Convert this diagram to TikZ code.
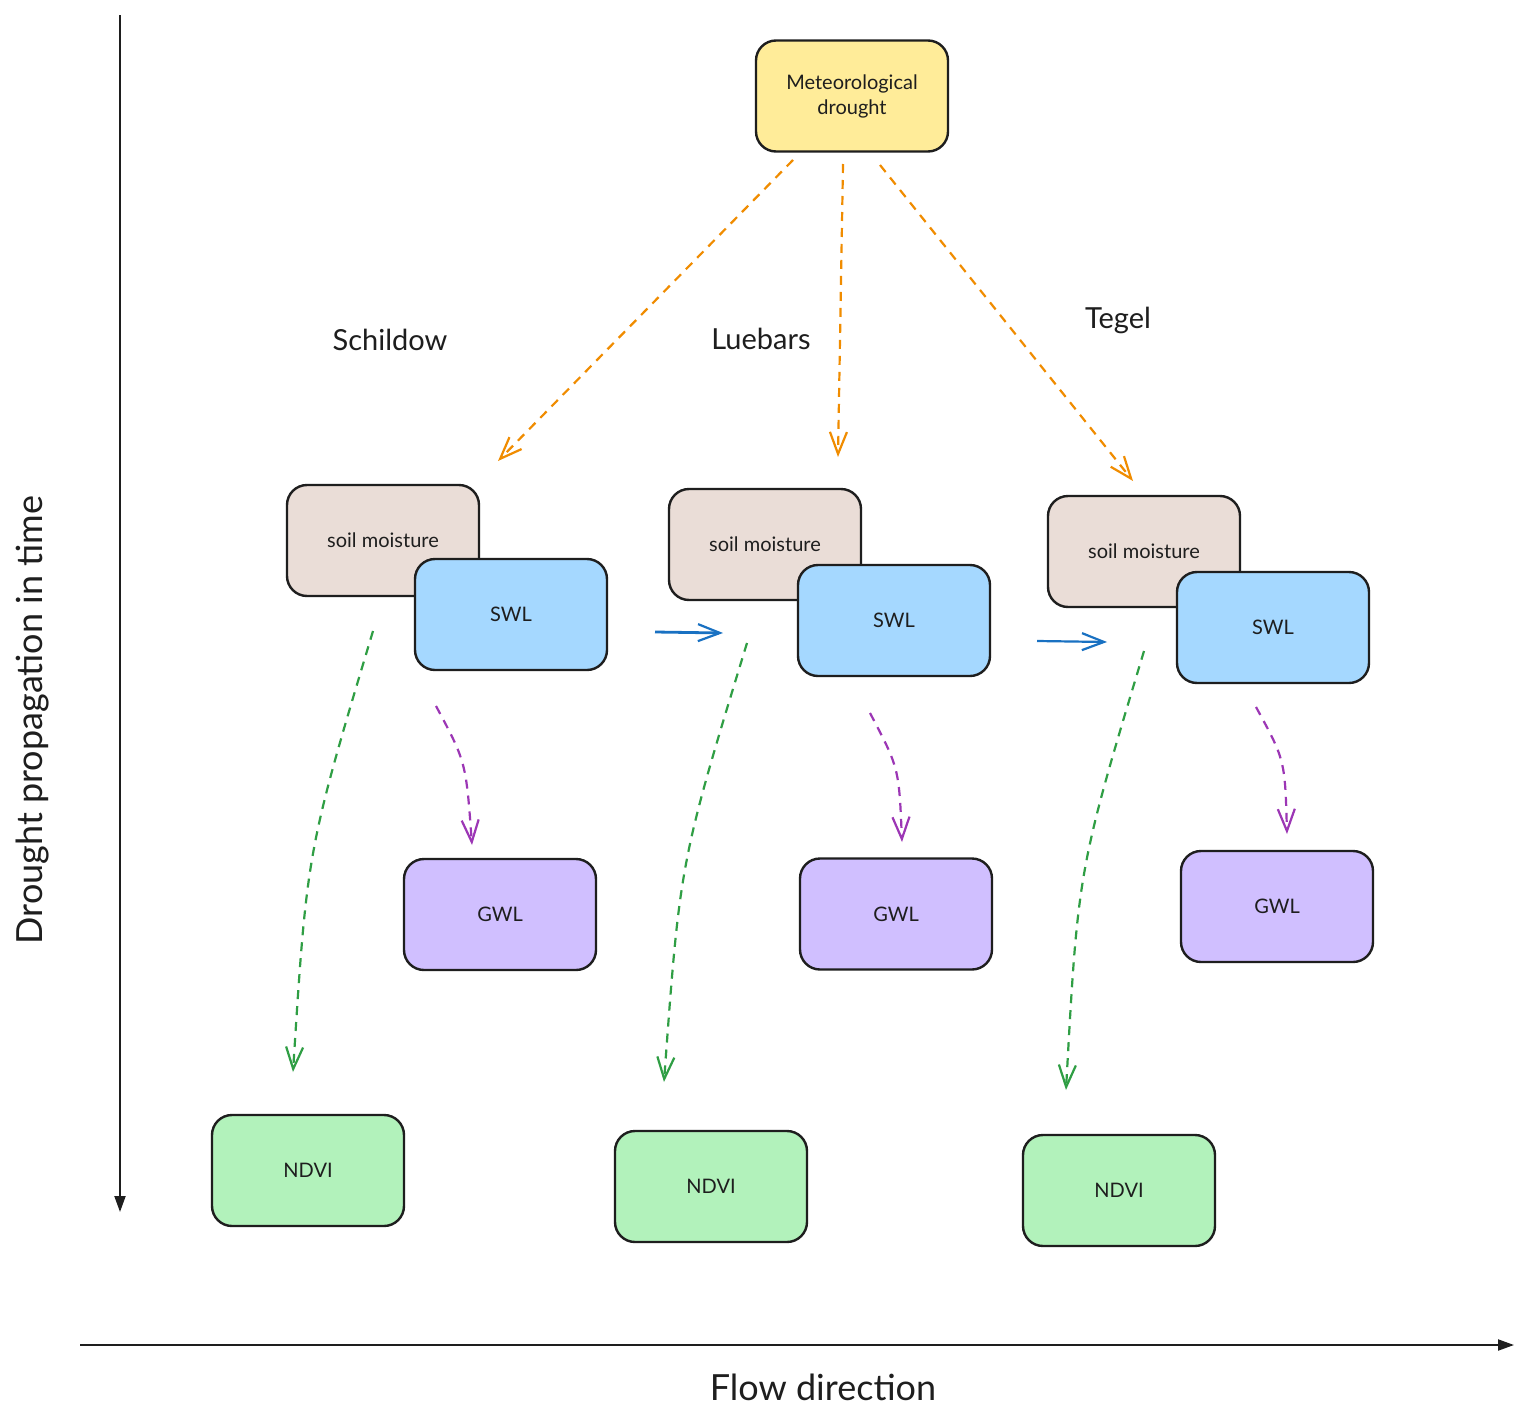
\documentclass[tikz,border=0pt]{standalone}
\usepackage{fontspec}
\setmainfont{Lato}
\usetikzlibrary{arrows.meta}
\definecolor{ink}{HTML}{1E1E1E}
\definecolor{cyellow}{HTML}{FFEC99}
\definecolor{csoil}{HTML}{EADDD7}
\definecolor{cswl}{HTML}{A5D8FF}
\definecolor{cgwl}{HTML}{D0BFFF}
\definecolor{cndvi}{HTML}{B2F2BB}
\definecolor{aorange}{HTML}{F08C00}
\definecolor{ablue}{HTML}{1971C2}
\definecolor{agreen}{HTML}{2F9E44}
\definecolor{apurple}{HTML}{9C36B5}
\tikzset{
  box/.style={draw=ink, line width=2.4pt, rounded corners=20pt, minimum width=192pt, minimum height=111pt, inner sep=0pt, text=ink, font=\fontsize{20}{25}\selectfont, align=center},
  lbl/.style={text=ink, font=\fontsize{29}{33}\selectfont},
  biglbl/.style={text=ink, font=\fontsize{36}{40}\selectfont},
  axis/.style={draw=ink, line width=2pt, -{Triangle[length=16pt,width=11pt]}},
  flowarrow/.style={line width=2.2pt, -{Straight Barb[length=22pt,width=17pt,line width=2.2pt]}},
  dsh/.style={dash pattern=on 9pt off 7pt},
}
\begin{document}
\begin{tikzpicture}[x=1pt,y=-1pt]
\useasboundingbox (0,0) rectangle (1529,1416);
\fill[white] (0,0) rectangle (1529,1416);
% axes
\coordinate (ytop) at (120,15);
\coordinate (ybot) at (120,1212);
\coordinate (xl) at (80,1345);
\coordinate (xr) at (1514,1345);
\draw[axis] (ytop) -- (ybot);
\draw[axis] (xl) -- (xr);
\node[biglbl, rotate=90] (ylab) at (33,720) {Drought propagation in time};
\node[biglbl] (xlab) at (823,1387) {Flow direction};
% station labels
\node[lbl] (schildow) at (390,340) {Schildow};
\node[lbl] (luebars) at (761,339) {Luebars};
\node[lbl] (tegel) at (1118,320) {Tegel};
% boxes
\node[box, fill=cyellow] (met) at (852,96) {Meteorological\\drought};
\node[box, fill=csoil] (smS) at (383,540.5) {soil moisture};
\node[box, fill=csoil] (smL) at (765,544.5) {soil moisture};
\node[box, fill=csoil] (smT) at (1144,551.5) {soil moisture};
\node[box, fill=cswl] (swlS) at (511,614.5) {SWL};
\node[box, fill=cswl] (swlL) at (894,620.5) {SWL};
\node[box, fill=cswl] (swlT) at (1273,627.5) {SWL};
\node[box, fill=cgwl] (gwlS) at (500,914.5) {GWL};
\node[box, fill=cgwl] (gwlL) at (896,914) {GWL};
\node[box, fill=cgwl] (gwlT) at (1277,906.5) {GWL};
\node[box, fill=cndvi] (ndviS) at (308,1170.5) {NDVI};
\node[box, fill=cndvi] (ndviL) at (711,1186.5) {NDVI};
\node[box, fill=cndvi] (ndviT) at (1119,1190.5) {NDVI};
% connector end points
\coordinate (o1s) at (793,160); \coordinate (o1e) at (498,461);
\coordinate (o2s) at (843,164); \coordinate (o2e) at (838,457);
\coordinate (o3s) at (880,165); \coordinate (o3e) at (1133,481);
\coordinate (b1s) at (655,632); \coordinate (b1e) at (723,633);
\coordinate (b2s) at (1037,641); \coordinate (b2e) at (1107,642);
\coordinate (g1s) at (373,631); \coordinate (g1e) at (293,1072);
\coordinate (g2s) at (747,643); \coordinate (g2e) at (664,1082);
\coordinate (g3s) at (1144,651); \coordinate (g3e) at (1066,1090);
\coordinate (p1s) at (436,706); \coordinate (p1e) at (472,845);
\coordinate (p2s) at (870,713); \coordinate (p2e) at (902,842);
\coordinate (p3s) at (1256,707); \coordinate (p3e) at (1287,834);
% orange: meteorological -> soil moisture
\draw[flowarrow, aorange, dsh] (o1s) -- (o1e);
\draw[flowarrow, aorange, dsh] (o2s) -- (o2e);
\draw[flowarrow, aorange, dsh] (o3s) -- (o3e);
% blue: downstream flow
\draw[flowarrow, ablue, line width=2.8pt] (b1s) -- (b1e);
\draw[flowarrow, ablue] (b2s) -- (b2e);
% green: soil moisture -> NDVI
\draw[flowarrow, agreen, dsh] (g1s) .. controls (307,851) .. (g1e);
\draw[flowarrow, agreen, dsh] (g2s) .. controls (680,862) .. (g2e);
\draw[flowarrow, agreen, dsh] (g3s) .. controls (1078,870) .. (g3e);
% purple: SWL -> GWL
\draw[flowarrow, apurple, dsh] (p1s) .. controls (466,762) .. (p1e);
\draw[flowarrow, apurple, dsh] (p2s) .. controls (899,768) .. (p2e);
\draw[flowarrow, apurple, dsh] (p3s) .. controls (1285,760) .. (p3e);
\end{tikzpicture}
\end{document}
